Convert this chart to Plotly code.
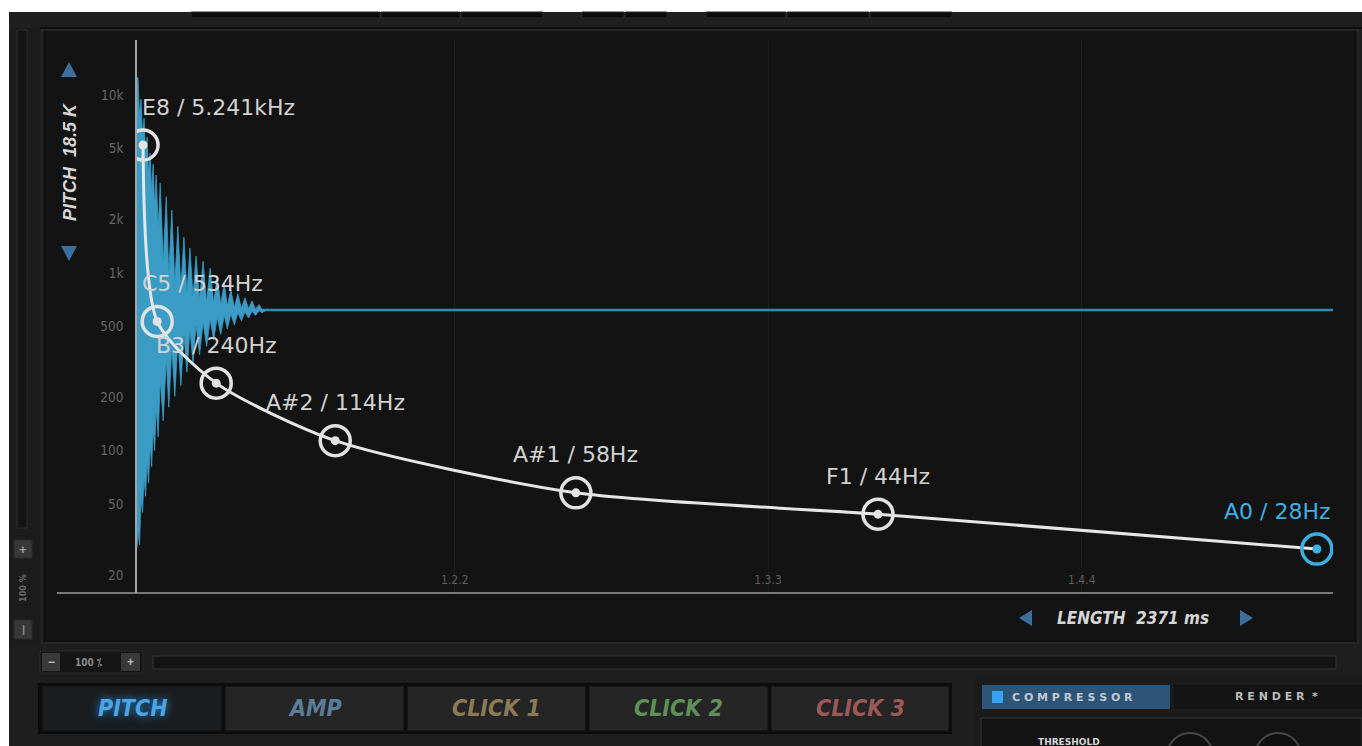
import math
import plotly.graph_objects as go

W, H = 1362, 746

# ---------------- data ----------------
length_ms = 2371
pitch_ms = [12, 40, 157, 393, 870, 1469, 2339]
pitch_hz = [5241, 534, 240, 114, 58, 44, 28]
pitch_labels = ["E8 / 5.241kHz", "C5 / 534Hz", "B3 / 240Hz", "A#2 / 114Hz",
                "A#1 / 58Hz", "F1 / 44Hz", "A0 / 28Hz"]

# waveform outline (ms, relative amplitude)
wave_up_ms = [2, 8, 14, 20, 26, 32, 38, 46, 58, 69, 81, 93, 105, 117, 131, 145,
              159, 173, 186, 200, 214, 228, 242]
wave_up_amp = [0.86, 0.78, 0.71, 0.64, 0.58, 0.54, 0.50, 0.47, 0.42, 0.37, 0.31,
               0.27, 0.23, 0.20, 0.18, 0.155, 0.125, 0.10, 0.075, 0.06, 0.045,
               0.033, 0.02]
wave_dn_notch = [-0.82, -0.70, -0.62, -0.56, -0.50, -0.44, -0.36, -0.26, -0.18,
                 -0.14, -0.11, -0.09, -0.07, -0.055, -0.045, -0.035, -0.028, -0.02,
                 -0.015, -0.01, -0.007, -0.004, -0.002]
wave_dn_ms = [5, 11, 17, 23, 29, 35, 42, 52, 63, 75, 87, 99, 111, 124, 138, 152,
              166, 179, 193, 207, 221, 235, 248]
wave_dn_amp = [-0.87, -0.75, -0.69, -0.64, -0.58, -0.52, -0.47, -0.41, -0.36,
               -0.32, -0.28, -0.23, -0.20, -0.165, -0.135, -0.11, -0.09, -0.07,
               -0.055, -0.04, -0.03, -0.02, -0.01]
wave_up_notch = [0.72, 0.64, 0.57, 0.50, 0.44, 0.38, 0.30, 0.18, 0.13, 0.10, 0.08,
                 0.065, 0.05, 0.04, 0.03, 0.025, 0.02, 0.015, 0.01, 0.007, 0.005,
                 0.003, 0.001]
wave_end_ms = 256

y_tick_vals = [10000, 5000, 2000, 1000, 500, 200, 100, 50, 20]
y_tick_text = ["10k", "5k", "2k", "1k", "500", "200", "100", "50", "20"]
x_tick_vals = [630, 1251, 1873]
x_tick_text = ["1.2.2", "1.3.3", "1.4.4"]

tabs = ["PITCH", "AMP", "CLICK 1", "CLICK 2", "CLICK 3"]
tab_colors = ["#4ba5e6", "#5a7d9c", "#8c7c55", "#5f9158", "#9b5959"]

# ---------------- helpers ----------------
def X(px):
    return px / W

def Y(py):
    return 1 - py / H

shapes = []
annotations = []

def rect(x0, y0, x1, y1, fill, line=None, lw=1, layer="below"):
    shapes.append(dict(type="rect", xref="paper", yref="paper",
                       x0=X(x0), x1=X(x1), y0=Y(y1), y1=Y(y0),
                       fillcolor=fill,
                       line=dict(color=line if line else fill, width=lw if line else 0),
                       layer=layer))

def hline(x0, x1, y, color, lw=1, layer="below"):
    shapes.append(dict(type="line", xref="paper", yref="paper",
                       x0=X(x0), x1=X(x1), y0=Y(y), y1=Y(y),
                       line=dict(color=color, width=lw), layer=layer))

def tri(pts, color, layer="above"):
    path = "M " + " L ".join(f"{X(a)},{Y(b)}" for a, b in pts) + " Z"
    shapes.append(dict(type="path", xref="paper", yref="paper", path=path,
                       fillcolor=color, line=dict(width=0), layer=layer))

def circ(cx, cy, r, fill, line, lw=1.5):
    shapes.append(dict(type="circle", xref="paper", yref="paper",
                       x0=X(cx - r), x1=X(cx + r), y0=Y(cy + r), y1=Y(cy - r),
                       fillcolor=fill, line=dict(color=line, width=lw), layer="below"))

def text(px, py, s, size, color, family="Liberation Sans", anchor="center",
         angle=0, weight="normal", style="normal", shadow="none"):
    annotations.append(dict(xref="paper", yref="paper", x=X(px), y=Y(py), text=s,
                            showarrow=False, xanchor=anchor, yanchor="middle",
                            textangle=angle,
                            font=dict(family=family, size=size, color=color,
                                      weight=weight, style=style, shadow=shadow)))

NARROW = "Liberation Sans Narrow, DejaVu Sans Condensed, Liberation Sans, sans-serif"

# ---------------- UI chrome ----------------
rect(9, 12, 1362, 746, "#1e1e1e")                 # whole UI background
rect(9, 12, 1362, 28, "#1f1f1f")                  # top toolbar
hline(40, 1362, 28, "#0e0e0e", 2)
for a, b in [(191, 380), (381, 460), (461, 543), (582, 624), (625, 667),
             (706, 786), (787, 869), (870, 952)]:
    rect(a, 12, b, 18, "#0b0b0b", "#2a2a2a", 1)
rect(9, 28, 40, 645, "#1c1c1c")                   # left strip
rect(17, 30, 27, 528, "#141414", "#2f2f2f", 1)     # left slider track
rect(14, 540, 32, 558, "#383838", "#2a2a2a", 1)
text(23, 549, "+", 13, "#9a9a9a", weight="bold")
text(23, 588, "100 %", 9, "#6a6a6a", family=NARROW, angle=-90, weight="bold")
rect(14, 620, 32, 639, "#383838", "#2a2a2a", 1)
text(23, 629, "|", 11, "#8a8a8a", weight="bold")

rect(42, 30, 1358, 643, "#131313", "#262626", 2)  # graph panel

# below-panel controls
rect(40, 651, 143, 673, "#151515", "#2a2a2a", 1)
rect(42, 653, 60, 671, "#393939")
text(51, 662, "−", 12, "#bbbbbb", weight="bold")
text(88, 662, "100 ⁒", 10, "#8a8a8a", family=NARROW, weight="bold")
rect(121, 653, 140, 671, "#393939")
text(130, 662, "+", 12, "#bbbbbb", weight="bold")
rect(153, 656, 1336, 669, "#141414", "#353535", 1)

# tabs
rect(38, 683, 952, 734, "#0c0c0c")
tab_x = [(42, 222), (225, 404), (407, 586), (589, 768), (771, 949)]
for i, (a, b) in enumerate(tab_x):
    rect(a, 686, b, 731, "#1a1d20" if i == 0 else "#252525", "#101010", 1)
    text((a + b) / 2, 708, tabs[i], 23, tab_colors[i], family=NARROW,
         weight="bold", style="italic",
         shadow="0px 0px 8px #2a8ad0" if i == 0 else "none")

# right panel
rect(975, 678, 1362, 746, "#1b1b1b")
rect(982, 685, 1170, 709, "#2c5578")
rect(992, 691, 1003, 703, "#3aa2f2")
text(1010, 697, "C O M P R E S S O R", 11, "#c2c9d0", family="DejaVu Sans",
     anchor="left", weight="bold")
rect(1174, 685, 1362, 709, "#141414")
text(1276, 696, "R E N D E R  *", 11, "#bdbdbd", family="DejaVu Sans", weight="bold")
rect(981, 718, 1362, 760, "#131313", "#2e2e2e", 1.5)
text(1069, 742, "THRESHOLD", 9, "#d8d8d8", family="DejaVu Sans", weight="bold")
circ(1190, 756, 23, "#101010", "#474747", 2)
circ(1278, 756, 23, "#101010", "#474747", 2)

# graph decorations
hline(57, 1333, 593, "#9c9c9c", 1.5, layer="above")
tri([(61, 77), (77, 77), (69, 62)], "#3c6f9d")
tri([(61, 246), (77, 246), (69, 261)], "#3c6f9d")
text(70, 162, "PITCH  18.5 K", 18, "#d6d6d6", family="Liberation Sans",
     angle=-90, weight="bold", style="italic")
tri([(1032, 610), (1032, 626), (1019, 618)], "#3c6f9d")
tri([(1240, 610), (1240, 626), (1253, 618)], "#3c6f9d")
text(1133, 618, "LENGTH  2371 ms", 17, "#d6d6d6", family=NARROW,
     weight="bold", style="italic")

# ---------------- traces ----------------
# waveform outline: upper edge left->right, lower edge right->left
up_x, up_y, lo_x, lo_y = [0], [0.86], [0], [-0.88]
for i in range(len(wave_up_ms)):
    up_x += [wave_up_ms[i], wave_dn_ms[i]]
    up_y += [wave_up_amp[i], wave_up_notch[i]]
    lo_x += [wave_up_ms[i], wave_dn_ms[i]]
    lo_y += [wave_dn_notch[i], wave_dn_amp[i]]
wave_x = up_x + [wave_end_ms] + lo_x[::-1]
wave_y = up_y + [0.0] + lo_y[::-1]

BLUE = "#3a9cc4"
fig = go.Figure()
fig.add_trace(go.Scatter(x=[0, length_ms], y=[0, 0], yaxis="y", mode="lines",
                         line=dict(color="#2f8cb3", width=2.4), hoverinfo="skip"))
fig.add_trace(go.Scatter(x=wave_x, y=wave_y, yaxis="y", mode="lines",
                         line=dict(color=BLUE, width=0.8),
                         fill="toself", fillcolor=BLUE, hoverinfo="skip"))
fig.add_trace(go.Scatter(x=pitch_ms, y=pitch_hz, yaxis="y2", mode="lines",
                         line=dict(color="#e6e6e6", width=3, shape="spline",
                                   smoothing=0.7), hoverinfo="skip"))
ring_colors = ["#e2e2e2"] * (len(pitch_ms) - 1) + ["#3db0e3"]
fig.add_trace(go.Scatter(x=pitch_ms, y=pitch_hz, yaxis="y2", mode="markers",
                         marker=dict(symbol="circle-open", size=30, color=ring_colors,
                                     line=dict(width=3.5)), hoverinfo="skip"))
fig.add_trace(go.Scatter(x=pitch_ms, y=pitch_hz, yaxis="y2", mode="markers",
                         marker=dict(symbol="circle", size=9, color=ring_colors),
                         hoverinfo="skip"))

anchors = ["left", "left", "center", "center", "center", "center", "right"]
xshifts = [-3, -17, 0, 0, 0, 0, 16]
for i, lab in enumerate(pitch_labels):
    annotations.append(dict(x=pitch_ms[i], y=math.log10(pitch_hz[i]), xref="x", yref="y2",
                            text=lab, showarrow=False, xanchor=anchors[i],
                            yanchor="middle", xshift=xshifts[i], yshift=38,
                            font=dict(family="DejaVu Sans", size=22,
                                      color=ring_colors[i] if i == len(pitch_ms) - 1 else "#d2d2d2")))

fig.update_layout(
    width=W, height=H, margin=dict(l=0, r=0, t=0, b=0),
    paper_bgcolor="#ffffff", plot_bgcolor="rgba(0,0,0,0)",
    showlegend=False, shapes=shapes, annotations=annotations,
    xaxis=dict(domain=[X(137), X(1333)], range=[0, length_ms],
               anchor="free", position=Y(571), side="bottom",
               tickvals=x_tick_vals, ticktext=x_tick_text,
               ticks="", ticklabelstandoff=0,
               tickfont=dict(family=NARROW, size=12, color="#5e5e5e"),
               showgrid=True, gridcolor="#1c1c1c", gridwidth=1,
               zeroline=False, showline=False, fixedrange=True),
    yaxis=dict(domain=[Y(593), Y(40)], range=[-1.048, 1.0], anchor="x",
               visible=False, fixedrange=True),
    yaxis2=dict(domain=[Y(593), Y(40)], overlaying="y", anchor="x", side="left",
                type="log", range=[1.20, 4.31],
                tickvals=y_tick_vals, ticktext=y_tick_text, ticks="",
                ticklabelstandoff=9,
                tickfont=dict(family=NARROW, size=13.5, color="#666666"),
                showgrid=False, zeroline=False,
                showline=True, linecolor="#a4a4a4", linewidth=1.5, fixedrange=True),
)

fig.write_html("out.html", config={"displayModeBar": False},
               post_script="document.body.style.margin='0';document.body.style.overflow='hidden';")
